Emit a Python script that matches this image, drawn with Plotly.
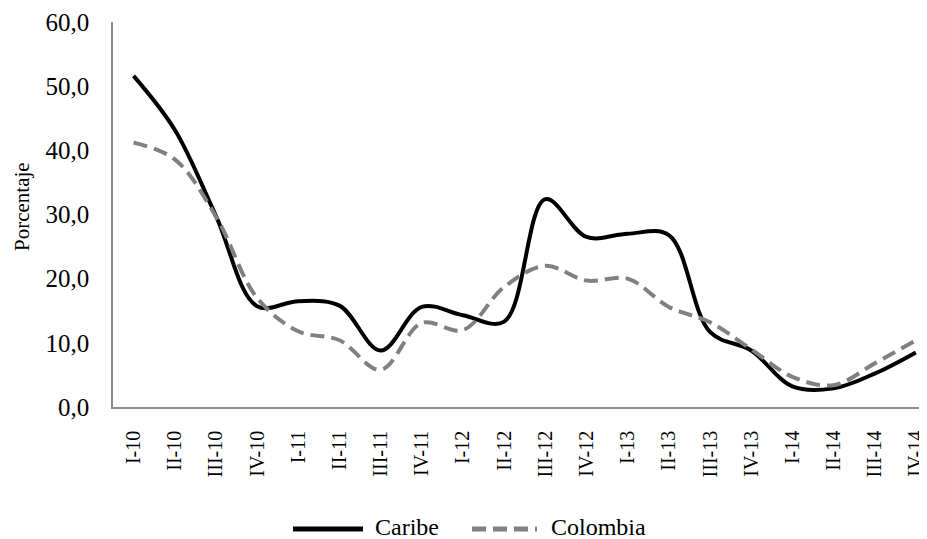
import plotly.graph_objects as go

categorias = ["I-10", "II-10", "III-10", "IV-10", "I-11", "II-11", "III-11", "IV-11",
              "I-12", "II-12", "III-12", "IV-12", "I-13", "II-13", "III-13", "IV-13",
              "I-14", "II-14", "III-14", "IV-14"]
caribe = [51.6, 43.2, 29.8, 15.7, 16.5, 15.8, 8.8, 15.6, 14.3, 13.3,
          32.4, 26.5, 27.0, 26.8, 11.7, 8.8, 3.2, 2.9, 5.2, 8.5]
colombia = [41.2, 38.6, 29.7, 17.0, 11.8, 10.4, 5.8, 13.1, 12.0, 18.7,
            22.0, 19.7, 20.0, 15.6, 13.2, 9.0, 4.7, 3.4, 6.8, 10.4]
series = [("Caribe", caribe, "black", "solid"),
          ("Colombia", colombia, "#808080", "14px,7px")]

FONT = "Liberation Serif"
OFF = 8  # page body margin of the html page
W, H = 927 - OFF, 539 - OFF
L, T = 113 - OFF, 22 - OFF
PW, PH = 814, 385
R, B = W - L - PW, H - T - PH


def px_x(p):
    return (p - OFF - L) / PW


def px_y(p):
    return (T + PH - (p - OFF)) / PH


fig = go.Figure()
for name, vals, color, dash in series:
    fig.add_trace(go.Scatter(x=categorias, y=vals, name=name, mode="lines", showlegend=False,
                             line=dict(color=color, width=4, shape="spline", smoothing=1,
                                       dash=dash)))

# custom legend (long key lines as in the reference)
legend_items = [(293, 363, 373), (472, 537, 549)]
LEG_Y = 528
shapes = []
annotations = []
for (name, vals, color, dash), (x0, x1, tx) in zip(series, legend_items):
    shapes.append(dict(type="line", xref="paper", yref="paper",
                       x0=px_x(x0), x1=px_x(x1), y0=px_y(LEG_Y + 1), y1=px_y(LEG_Y + 1),
                       line=dict(color=color, width=5, dash=dash)))
    annotations.append(dict(text=name, xref="paper", yref="paper", x=px_x(tx), y=px_y(LEG_Y - 1),
                            xanchor="left", yanchor="middle", showarrow=False,
                            font=dict(family=FONT, size=24, color="black")))

annotations.append(dict(text="Porcentaje", xref="paper", yref="paper", x=px_x(22), y=px_y(207),
                        xanchor="center", yanchor="middle", textangle=-90, showarrow=False,
                        font=dict(family=FONT, size=21, color="black")))

fig.update_layout(
    width=W, height=H,
    margin=dict(l=L, r=R, t=T, b=B),
    paper_bgcolor="white", plot_bgcolor="white",
    separators=", ",
    font=dict(family=FONT, size=25, color="black"),
    showlegend=False,
    shapes=shapes,
    annotations=annotations,
)
fig.update_xaxes(type="category", range=[-0.5, 19.27], showline=True, linecolor="#8c8c8c",
                 linewidth=1.5, showgrid=False, zeroline=False, ticks="", tickangle=-90,
                 automargin=False,
                 tickfont=dict(family=FONT, size=20, color="black"), ticklabelstandoff=14)
fig.update_yaxes(range=[0, 60], dtick=10, tickformat=".1f", showline=True, linecolor="#8c8c8c",
                 linewidth=1.5, showgrid=False, zeroline=False, ticks="", automargin=False,
                 tickfont=dict(family=FONT, size=25, color="black"), ticklabelstandoff=17)

fig.write_html("out.html")
